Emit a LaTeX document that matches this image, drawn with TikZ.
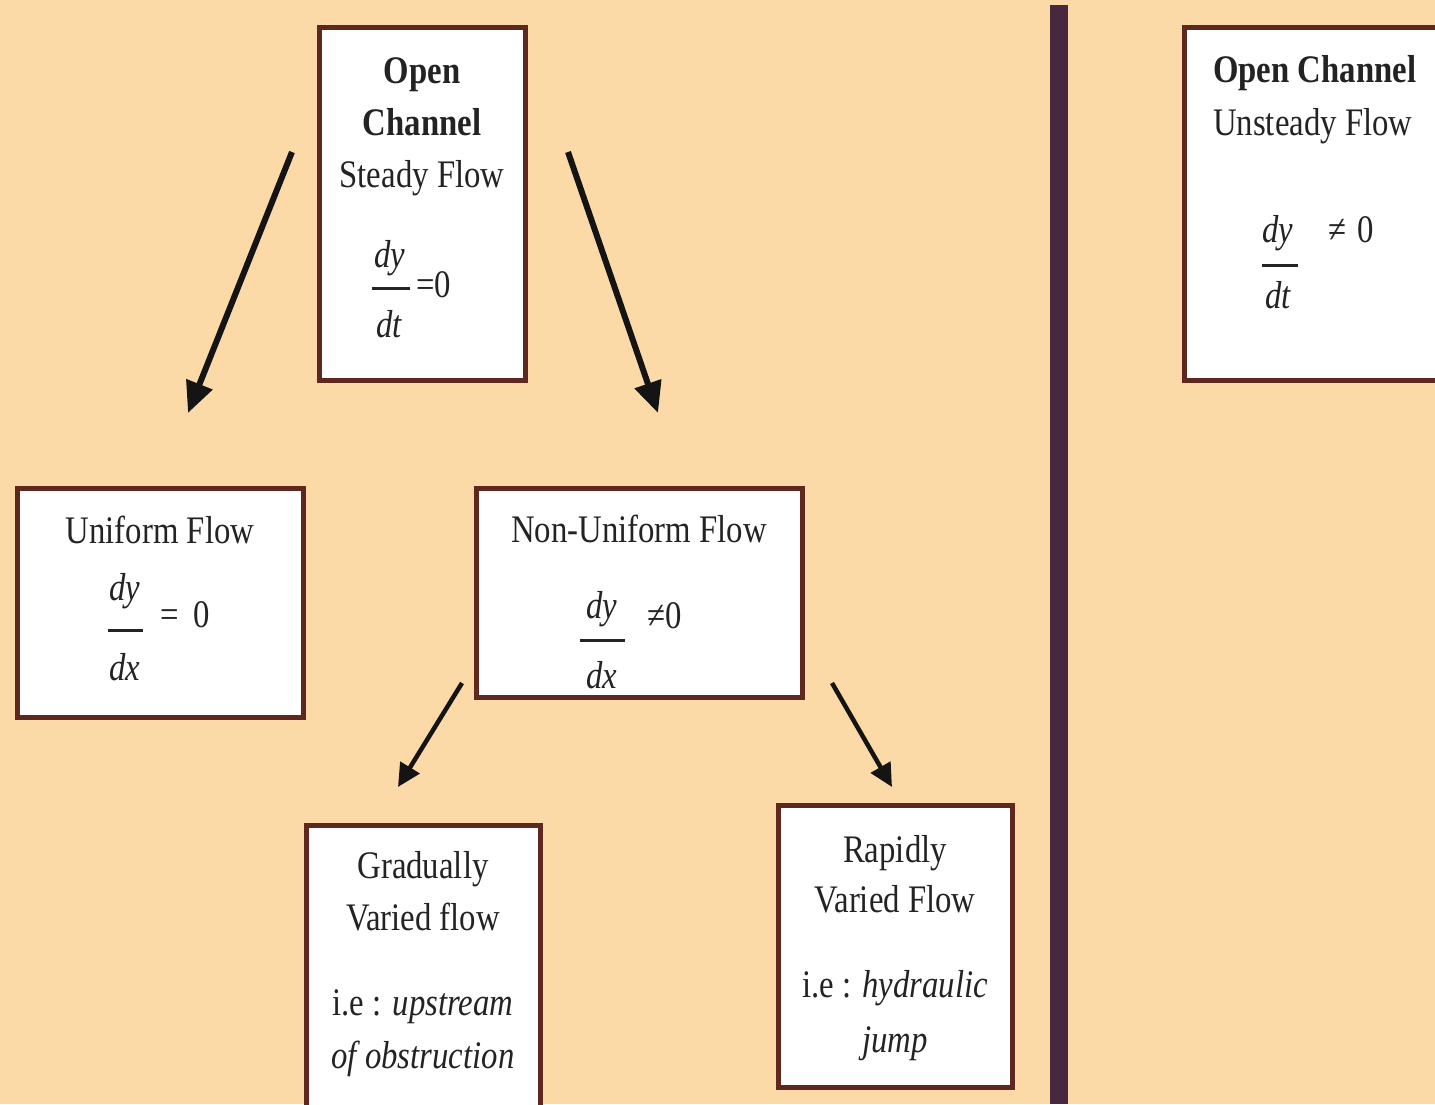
\documentclass[tikz,border=0pt]{standalone}
\usepackage{fontspec}
\setmainfont{Liberation Serif}[FakeStretch=0.84]
\usetikzlibrary{arrows.meta}
\definecolor{bg}{RGB}{252,218,168}
\definecolor{brd}{RGB}{95,40,30}
\definecolor{sep}{RGB}{72,40,62}
\definecolor{ink}{RGB}{35,35,35}
\newcommand\fs{\fontsize{39}{45}\selectfont}
\begin{document}
\begin{tikzpicture}[x=1pt,y=-1pt,
  box/.style={draw=brd,line width=5pt,fill=white,inner sep=0pt},
  txt/.style={inner sep=0pt,anchor=base,font=\fs,text=ink},
  txtl/.style={txt,anchor=base west},
  fbar/.style={inner sep=0pt,anchor=center,text=ink},
  bigarrow/.style={line width=6pt,draw=black!92,-{Triangle[length=31pt,width=27pt]}},
  smallarrow/.style={line width=4.5pt,draw=black!92,-{Triangle[length=23pt,width=22pt]}}]
\useasboundingbox (0,0) rectangle (1435,1104);
\clip (0,0) rectangle (1435,1104);
\fill[bg] (0,0) rectangle (1435,1104);
\fill[sep] (1050,5) rectangle (1068,1104);
% boxes
\node[box,minimum width=206pt,minimum height=353pt] (top) at (422.5,204) {};
\node[box,minimum width=276pt,minimum height=353pt] (uns) at (1322,204) {};
\node[box,minimum width=286pt,minimum height=229pt] (uni) at (160.5,603) {};
\node[box,minimum width=326pt,minimum height=209pt] (non) at (639.5,593) {};
\node[box,minimum width=234pt,minimum height=300pt] (gra) at (423.5,975) {};
\node[box,minimum width=234pt,minimum height=282pt] (rap) at (895.5,946.5) {};
% top box text
\node[txt,font=\fs\bfseries] (t1) at (422,83) {Open};
\node[txt,font=\fs\bfseries] (t2) at (422,135) {Channel};
\node[txt] (t3) at (422,187) {Steady Flow};
\node[txt] (t4) at (390,267) {\itshape dy};
\node[fbar] (t5) at (391,288.5) {\rule{38pt}{3pt}};
\node[txt] (t6) at (389,337) {\itshape dt};
\node[txtl] (t7) at (416,297) {=0};
% unsteady box text
\node[txtl,font=\fs\bfseries] (r1) at (1213,82) {Open Channel};
\node[txtl] (r2) at (1213,135) {Unsteady Flow};
\node[txt] (r3) at (1278,242) {\itshape dy};
\node[fbar] (r4) at (1280,265) {\rule{36pt}{3pt}};
\node[txt] (r5) at (1278,308) {\itshape dt};
\node[txtl] (r6) at (1328,242) {≠\hspace{11pt}0};
% uniform box text
\node[txt] (u1) at (160,543) {Uniform Flow};
\node[txt] (u2) at (125,600) {\itshape dy};
\node[fbar] (u3) at (125.5,630) {\rule{35pt}{3pt}};
\node[txt] (u4) at (125,680) {\itshape dx};
\node[txtl] (u5) at (160,627) {=\hspace{15pt}0};
% non-uniform box text
\node[txt] (n1) at (639,542) {Non-Uniform Flow};
\node[txt] (n2) at (602,618) {\itshape dy};
\node[fbar] (n3) at (602.5,640) {\rule{45pt}{3pt}};
\node[txt] (n4) at (602,688) {\itshape dx};
\node[txtl] (n5) at (647,628) {≠0};
% gradually box text
\node[txt] (g1) at (423,878) {Gradually};
\node[txt] (g2) at (423,930) {Varied flow};
\node[txt] (g3) at (423,1015) {i.e : \textit{upstream}};
\node[txt] (g4) at (423,1068) {\textit{of obstruction}};
% rapidly box text
\node[txt] (p1) at (895,862) {Rapidly};
\node[txt] (p2) at (895,912) {Varied Flow};
\node[txt] (p3) at (895,997) {i.e : \textit{hydraulic}};
\node[txt] (p4) at (895,1052) {\textit{jump}};
% arrows
\coordinate (a1s) at (292,152);
\coordinate (a1e) at (188,413);
\coordinate (a2s) at (568,152);
\coordinate (a2e) at (658,413);
\coordinate (a3s) at (462,683);
\coordinate (a3e) at (398,787);
\coordinate (a4s) at (832,683);
\coordinate (a4e) at (892,787);
\draw[bigarrow] (a1s) -- (a1e);
\draw[bigarrow] (a2s) -- (a2e);
\draw[smallarrow] (a3s) -- (a3e);
\draw[smallarrow] (a4s) -- (a4e);
\end{tikzpicture}
\end{document}
